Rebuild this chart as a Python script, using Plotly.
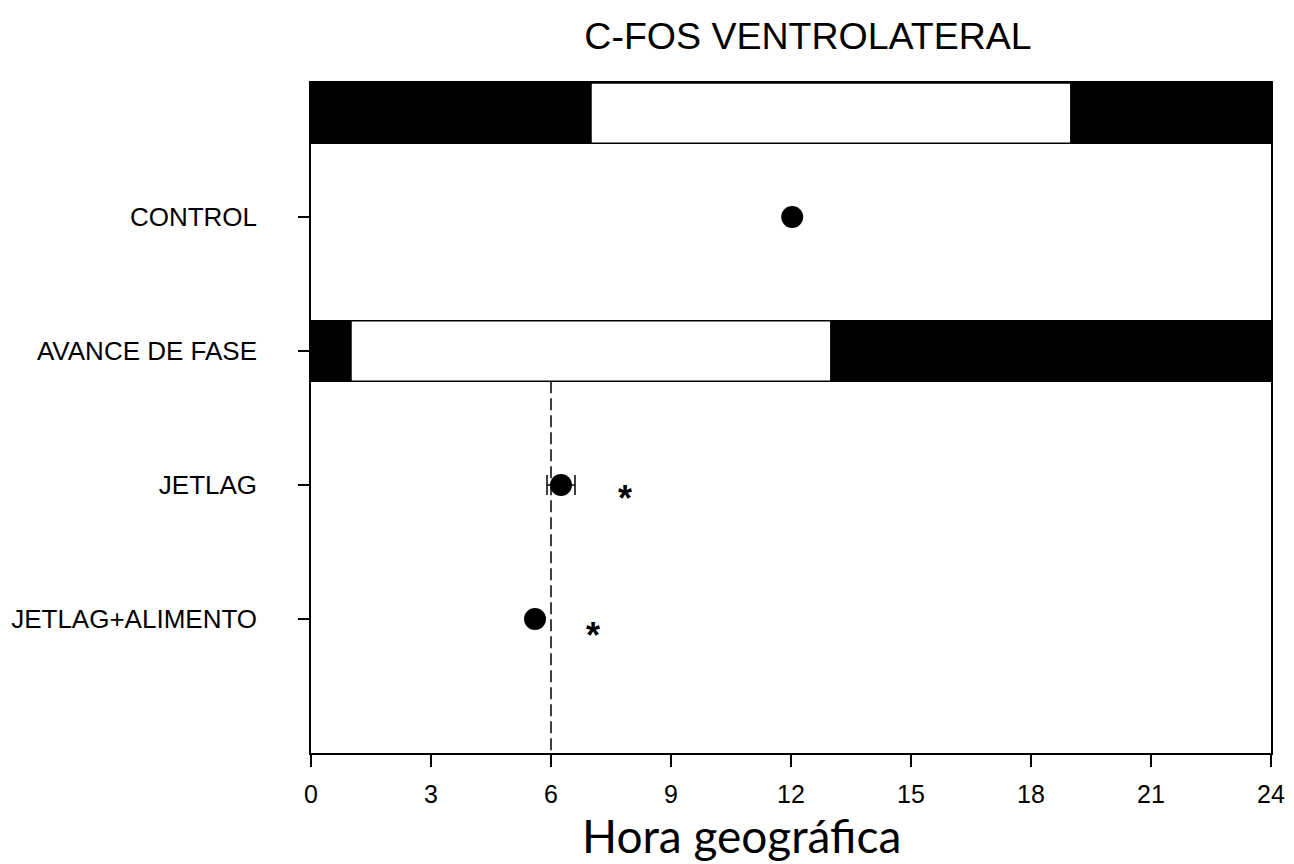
import plotly.graph_objects as go

# ---- data ----
groups = ["CONTROL", "AVANCE DE FASE", "JETLAG", "JETLAG+ALIMENTO"]
group_pos = [4, 3, 2, 1]

# light/dark schedule bars: (start, end, colour) per row
ld_reference_y = 4.775          # bar above CONTROL
ld_reference = [(0, 7, "black"), (7, 19, "white"), (19, 24, "black")]
ld_advance_y = 3.0              # AVANCE DE FASE bar
ld_advance = [(0, 1, "black"), (1, 13, "white"), (13, 24, "black")]
bar_thickness = 0.45

# peak times (hora geográfica) with SEM
peak_x = [12.03, 6.25, 5.6]
peak_y = [4.0, 2.0, 1.0]
peak_err = [0.1, 0.35, 0.0]

# significance asterisks
star_x = [7.85, 7.05]
star_y = [1.96, 0.94]

# reference dashed line (hour 6)
ref_line_x = [6, 6]
ref_line_y = [2.775, 0.0]

x_ticks = [0, 3, 6, 9, 12, 15, 18, 21, 24]

fig = go.Figure()

for yc, segs in [(ld_reference_y, ld_reference), (ld_advance_y, ld_advance)]:
    fig.add_trace(go.Bar(
        orientation="h",
        y=[yc] * len(segs),
        base=[s[0] for s in segs],
        x=[s[1] - s[0] for s in segs],
        width=bar_thickness,
        marker=dict(color=[s[2] for s in segs], line=dict(color="black", width=1.5)),
        showlegend=False, hoverinfo="skip",
    ))

fig.add_trace(go.Scatter(
    x=ref_line_x, y=ref_line_y, mode="lines",
    line=dict(color="black", width=1.5, dash="12px,5px"),
    showlegend=False, hoverinfo="skip",
))

fig.add_trace(go.Scatter(
    x=peak_x, y=peak_y, mode="markers",
    marker=dict(symbol="circle", size=22, color="black"),
    error_x=dict(type="data", array=peak_err, color="black", thickness=1.5, width=10),
    showlegend=False,
))

for sx, sy in zip(star_x, star_y):
    fig.add_annotation(x=sx, y=sy, xref="x", yref="y", text="*", showarrow=False,
                       font=dict(family="Liberation Sans", size=36, color="black", weight="bold"),
                       yshift=-8)

fig.update_layout(
    width=1294, height=864,
    margin=dict(l=311, r=23, t=83, b=111),
    paper_bgcolor="white", plot_bgcolor="white",
    barmode="overlay",
    title=dict(text="C-FOS VENTROLATERAL", x=808 / 1294, xanchor="center",
               y=1 - 36 / 864, yanchor="middle",
               font=dict(family="Liberation Sans", size=37.5, color="black")),
    xaxis=dict(range=[0, 24], tickvals=x_ticks, ticks="outside", ticklen=12,
               tickwidth=1.5, tickcolor="black", showline=True, linecolor="black",
               linewidth=1.5, mirror=True, showgrid=False, zeroline=False,
               automargin=False, ticklabelstandoff=6,
               tickfont=dict(family="Liberation Sans", size=25, color="black")),
    yaxis=dict(range=[0, 5], tickvals=group_pos, ticktext=groups, ticks="outside",
               ticklen=11, tickwidth=1.5, tickcolor="black", showline=True,
               linecolor="black", linewidth=1.5, mirror=True, showgrid=False,
               zeroline=False, ticklabelstandoff=36, automargin=False,
               tickfont=dict(family="Liberation Sans", size=26, color="black")),
)

fig.add_annotation(x=(741 - 311) / 960, y=(753 - 836) / 670, xref="paper", yref="paper",
                   text="Hora geográfica", showarrow=False, xanchor="center",
                   yanchor="middle",
                   font=dict(family="Lato", size=46, color="black"))

fig.write_html("out.html")
